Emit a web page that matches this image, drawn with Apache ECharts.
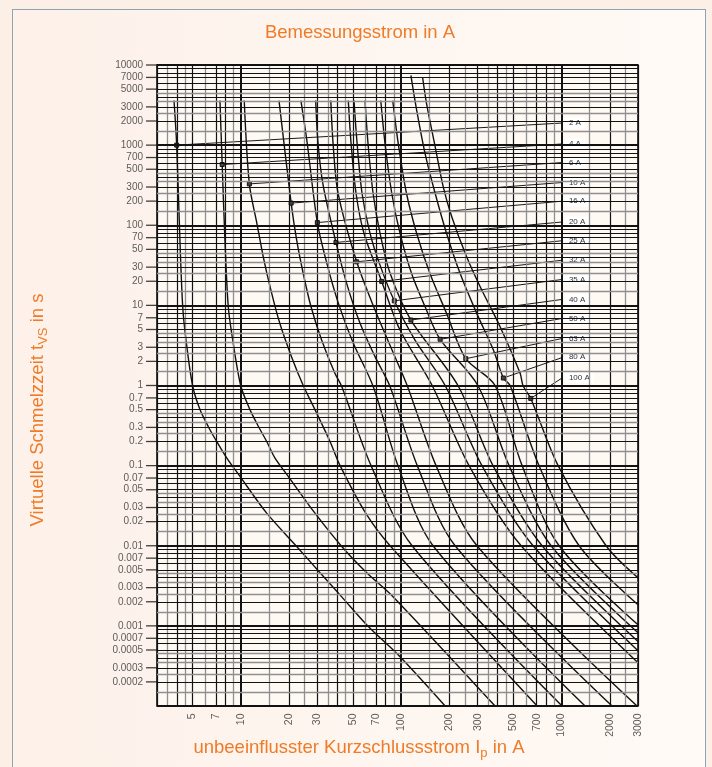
<!DOCTYPE html>
<html>
<head>
<meta charset="utf-8">
<script src="https://cdn.jsdelivr.net/npm/echarts@6/dist/echarts.min.js"></script>
<style>
html,body{margin:0;padding:0;background:#fcefe6;width:712px;height:767px;overflow:hidden;}
#panel{position:absolute;left:12px;top:9px;width:692px;height:770px;border:1.5px solid #8fa3b7;background:linear-gradient(to right,#fdf1e9,#fffaf6);}
#chart{position:absolute;left:0;top:0;width:712px;height:767px;}
</style>
</head>
<body>
<div id="panel"></div>
<div id="chart"></div>
<script>
// ---- data (current in A, time in s) ----
const fuseRatings = ['2 A','4 A','6 A','10 A','16 A','20 A','25 A','32 A','35 A','40 A','50 A','63 A','80 A','100 A'];

const curve2A = [[3.83,3600],[3.98,1000],[4.17,65],[4.34,9.6],[4.55,3.7],[5.0,1.0],[5.56,0.5],[6.27,0.306],[7.07,0.2],[8.16,0.125],[9.9,0.073],[14.5,0.0255],[22.3,0.0098],[31.2,0.0046],[42.6,0.0023],[62.4,0.00098],[97.4,0.00042],[188,0.0001]];
const curve4A = [[7.41,3600],[7.65,573],[7.96,65],[8.35,9.6],[8.9,3.7],[9.98,1.0],[11.4,0.5],[12.9,0.306],[14.5,0.2],[16.3,0.125],[19.8,0.073],[29.0,0.0255],[42.6,0.0098],[61.0,0.0046],[89.3,0.0023],[385,0.0001]];
const curve6A = [[10.5,3600],[11.3,328],[12.6,105],[13.8,40.4],[15.4,15.5],[17.5,5.97],[20.7,2.29],[24.5,1.0],[29.0,0.5],[36.0,0.2],[41.6,0.1],[60.1,0.0255],[85.3,0.01],[705,0.0001]];
const curve10A = [[17.3,3600],[20.6,189],[22.3,65],[24.5,25],[27.4,9.6],[31.9,3.7],[38.6,1.42],[42.6,0.97],[64.9,0.1],[117,0.01],[1008,0.0001]];
const curve16A = [[23.7,3600],[25.8,1150],[30,108],[34.4,33.4],[40.6,10.6],[50.3,3.36],[67.0,0.966],[95.5,0.1],[158,0.01],[1403,0.0001]];
const curve20A = [[29.3,3600],[30.3,1056],[32.6,316],[39.2,61],[45.7,18.8],[55.4,5.97],[68.7,2.29],[85.3,0.966],[126,0.1],[217,0.01],[2066,0.0001]];
const curve25A = [[36.4,3600],[37.6,1056],[40.4,251],[52.8,35],[68.7,8.74],[87.7,2.77],[109,1.0],[165,0.1],[297,0.01],[2960,0.0001]];
const curve32A = [[46.8,3600],[48.7,1056],[52.3,251],[58.6,79.6],[75.6,19.9],[98.4,4.92],[156,1.0],[265,0.1],[560,0.01],[3000,0.000347]];
const curve35A = [[50.8,3600],[53.1,1056],[57.0,251],[63.9,79.6],[73.8,31.8],[90.6,11.4],[122,3.69],[188,1.0],[319,0.1],[665,0.01],[3000,0.00049]];
const curve40A = [[59.5,3600],[62.1,1056],[66.8,251],[73.8,79.6],[85.3,25.1],[115,6.56],[226,1.0],[374,0.1],[757,0.01],[3000,0.000638]];
const curve50A = [[74.6,3600],[79.3,1047],[87.4,249],[98.4,79],[116,25.1],[141,9.6],[175,3.77],[301,1.0],[471,0.1],[861,0.01],[3000,0.00082]];
const curve63A = [[88.6,3600],[95.9,1047],[108,249],[125,79],[151,25.1],[192,7.94],[253,2.16],[385,1.0],[568,0.1],[966,0.01],[3000,0.00103]];
const curve80A = [[115,7440],[125,2720],[141,785],[163,249],[192,79],[233,25.1],[296,7.94],[376,2.77],[434,1.24],[478,1.0],[724,0.1],[1288,0.01],[3000,0.00183]];
const curve100A = [[136,7030],[144,3300],[163,950],[183,301],[207,127],[256,40.4],[311,17.1],[414,5.41],[552,1.42],[575,1.0],[643,0.69],[953,0.1],[1897,0.01],[3000,0.00398]];

const curves = [curve2A,curve4A,curve6A,curve10A,curve16A,curve20A,curve25A,curve32A,curve35A,curve40A,curve50A,curve63A,curve80A,curve100A];

// marked points on each curve and the time level of each label
const markerPoints = [[3.98,1000],[7.65,573],[11.3,328],[20.6,189],[30,108],[39.2,61],[52.8,35],[75.6,19.9],[90.6,11.4],[115,6.56],[175,3.77],[253,2.16],[434,1.24],[643,0.69]];
const labelTimes = [1890,1035,607,342,200,110,64.2,36.7,21.1,11.9,6.89,3.88,2.25,1.26];

const xTickLabels = [5,7,10,20,30,50,70,100,200,300,500,700,1000,2000,3000];
const yTickLabels = [10000,7000,5000,3000,2000,1000,700,500,300,200,100,70,50,30,20,10,7,5,3,2,1,0.7,0.5,0.3,0.2,0.1,0.07,0.05,0.03,0.02,0.01,0.007,0.005,0.003,0.002,0.001,0.0007,0.0005,0.0003,0.0002];

// ---- layout / style ----
const X_MIN = 3, X_MAX = 3000, Y_MIN = 0.0001, Y_MAX = 10000;
const LABEL_CURRENT = 1020;
const FONT = "'Liberation Sans', Arial, sans-serif";
const ORANGE = '#ef7b28';

function decadeValues(lo, hi, mantissas) {
  const out = [];
  for (let e = -5; e <= 5; e++) {
    for (const m of mantissas) {
      const v = +(m * Math.pow(10, e)).toPrecision(6);
      if (v >= lo * 0.9999 && v <= hi * 1.0001) out.push(v);
    }
  }
  return out;
}
const BLACK = '#121212', GRAY = '#8f8f8f';
const vLines = [].concat(
  decadeValues(X_MIN, X_MAX, [1.5,2.5,3.5,4.5,6,9]).map(v => ({xAxis: v, lineStyle: {color: GRAY, width: 1.3, type: 'solid'}})),
  decadeValues(X_MIN, X_MAX, [2,3,4,5,7,8]).map(v => ({xAxis: v, lineStyle: {color: BLACK, width: 1.2, type: 'solid'}})),
  decadeValues(X_MIN, X_MAX, [1]).map(v => ({xAxis: v, lineStyle: {color: BLACK, width: 2, type: 'solid'}}))
);
const hLines = [].concat(
  decadeValues(Y_MIN, Y_MAX, [1.5,2.5,3.5,4.5]).map(v => ({yAxis: v, lineStyle: {color: GRAY, width: 1.3, type: 'solid'}})),
  decadeValues(Y_MIN, Y_MAX, [2,3,4,5,6,7,8,9]).map(v => ({yAxis: v, lineStyle: {color: BLACK, width: 1.2, type: 'solid'}})),
  decadeValues(Y_MIN, Y_MAX, [1]).map(v => ({yAxis: v, lineStyle: {color: BLACK, width: 2, type: 'solid'}}))
);

const series = [];
series.push({
  type: 'line', data: [], silent: true, z: 1,
  markLine: {silent: true, precision: 10, symbol: ['none','none'], label: {show: false}, emphasis: {disabled: true}, animation: false, data: vLines}
});
series.push({
  type: 'line', data: [], silent: true, z: 1,
  markLine: {silent: true, precision: 10, symbol: ['none','none'], label: {show: false}, emphasis: {disabled: true}, animation: false, data: hLines}
});

curves.forEach((c, i) => {
  series.push({
    name: fuseRatings[i], type: 'line', data: c, showSymbol: false, smooth: 0.3,
    lineStyle: {color: '#111', width: 1.4}, z: 3, silent: true, clip: true
  });
});

markerPoints.forEach((p, i) => {
  series.push({
    name: 'lbl ' + fuseRatings[i], type: 'line', z: 4, silent: true,
    data: [
      {value: p, symbol: 'rect', symbolSize: 4, itemStyle: {color: '#444', borderColor: '#111', borderWidth: 1}},
      {value: [LABEL_CURRENT, labelTimes[i]], symbol: 'none'}
    ],
    showSymbol: true, lineStyle: {color: '#1a1a1a', width: 1},
    endLabel: {
      show: true, formatter: fuseRatings[i], fontSize: 8, fontFamily: FONT, color: '#333',
      backgroundColor: '#ffffff', padding: [2, 4, 1, 4], distance: 2
    }
  });
});

// y axis ticks + labels
series.push({
  type: 'scatter', silent: true, z: 6,
  data: yTickLabels.map(v => [X_MIN, v]),
  symbol: 'rect', symbolSize: [11, 1.3], symbolOffset: [-5.5, 0],
  itemStyle: {color: '#111'},
  label: {show: true, position: 'left', distance: 3, fontSize: 10, fontFamily: FONT, color: '#333',
    formatter: p => String(p.value[1])}
});
// x axis labels
series.push({
  type: 'scatter', silent: true, z: 6,
  data: xTickLabels.map(v => [v, Y_MIN]),
  symbolSize: 1, itemStyle: {color: 'rgba(0,0,0,0)'},
  label: {show: true, position: 'bottom', distance: 7, rotate: 90, align: 'right', verticalAlign: 'middle',
    fontSize: 10.5, fontFamily: FONT, color: '#333', formatter: p => String(p.value[0])}
});

const chart = echarts.init(document.getElementById('chart'), null, {renderer: 'canvas'});
chart.setOption({
  animation: false,
  backgroundColor: 'transparent',
  grid: {left: 157, top: 65, right: 74, bottom: 61, show: true, backgroundColor: '#fff9f4', borderColor: '#111', borderWidth: 1.6},
  xAxis: {type: 'log', logBase: 10, min: X_MIN, max: X_MAX,
    axisLine: {show: false}, axisTick: {show: false}, axisLabel: {show: false}, splitLine: {show: false}},
  yAxis: {type: 'log', logBase: 10, min: Y_MIN, max: Y_MAX,
    axisLine: {show: false}, axisTick: {show: false}, axisLabel: {show: false}, splitLine: {show: false}},
  graphic: [
    {type: 'text', x: 360, y: 33, z: 10, style: {text: 'Bemessungsstrom in A', fill: ORANGE, font: '18.5px ' + FONT, align: 'center', verticalAlign: 'middle'}},
    {type: 'text', x: 359, y: 748, z: 10, style: {
      text: '{a|unbeeinflusster Kurzschlussstrom I}{b|p}{a| in A}', align: 'center', verticalAlign: 'middle',
      rich: {a: {fontSize: 18.5, fontFamily: FONT, fill: ORANGE, lineHeight: 24}, b: {fontSize: 13, fontFamily: FONT, fill: ORANGE, verticalAlign: 'bottom'}}}},
    {type: 'text', x: 38, y: 410, rotation: Math.PI / 2, z: 10, style: {
      text: '{a|Virtuelle Schmelzzeit t}{b|VS}{a| in s}', align: 'center', verticalAlign: 'middle',
      rich: {a: {fontSize: 18.5, fontFamily: FONT, fill: ORANGE, lineHeight: 24}, b: {fontSize: 13, fontFamily: FONT, fill: ORANGE, verticalAlign: 'bottom'}}}}
  ],
  series: series
});
</script>
</body>
</html>
